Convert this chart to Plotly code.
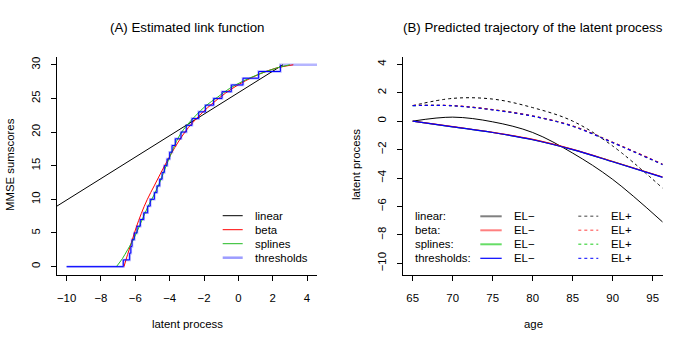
import plotly.graph_objects as go

W, H = 692, 346

# ---- (A) estimated link functions: latent process -> MMSE sumscore
linear_x = [-10.56, 2.6]
linear_y = [9.0, 30.0]

beta_x = [-6.66, -6.45, -6.2, -5.95, -5.65, -5.3, -4.9, -4.5, -4.1, -3.7,
          -3.3, -2.9, -2.4, -1.8, -1.1, -0.4, 0.4, 1.3, 2.2, 3.2]
beta_y = [0, 1.8, 3.8, 5.8, 7.9, 10.0, 12.0, 14.0, 15.9, 17.7,
          19.3, 20.7, 22.1, 23.6, 25.1, 26.4, 27.6, 28.7, 29.5, 30]

splines_x = [-7.1, -6.75, -6.45, -6.2, -5.9, -5.6, -5.25, -4.9, -4.55, -4.2, -3.8,
             -3.4, -3.0, -2.5, -1.9, -1.2, -0.5, 0.3, 1.2, 2.2, 3.0]
splines_y = [0, 1.2, 2.5, 3.6, 5.2, 7.0, 9.0, 10.7, 12.7, 15.0, 17.5,
             19.6, 21.0, 22.4, 23.9, 25.2, 26.5, 27.6, 28.6, 29.5, 30]

# latent value where the score moves from k to k+1
thresholds = [-6.70, -6.33, -6.26, -6.19, -6.06, -5.90, -5.71, -5.51, -5.28, -5.13,
              -4.89, -4.74, -4.58, -4.44, -4.31, -4.15, -4.00, -3.86, -3.67, -3.34,
              -3.03, -2.70, -2.31, -1.92, -1.44, -0.95, -0.41, 0.27, 1.18, 2.45]
score_levels = [0, 1, 2, 3, 4, 5, 6, 7, 8, 9, 10, 11, 12, 13, 14, 15, 16, 17, 18, 19,
                20, 21, 22, 23, 24, 25, 26, 27, 28, 29, 30]
step_start, step_end = -10.0, 4.6

# ---- (B) predicted trajectories by education level
ages = [65, 70, 75, 80, 85, 90, 96.25]
linear_lo = [0, 0.28, -0.05, -0.8, -2.25, -4.1, -7.1]
linear_hi = [1.09, 1.6, 1.55, 0.95, 0.0, -1.75, -4.72]
beta_lo = [0, -0.39, -0.79, -1.29, -1.99, -2.84, -3.93]
beta_hi = [1.1, 1.09, 0.81, 0.36, -0.34, -1.49, -3.03]
splines_lo = [0, -0.4, -0.8, -1.3, -2.0, -2.85, -3.95]
splines_hi = [1.09, 1.08, 0.8, 0.35, -0.35, -1.5, -3.05]
thresh_lo = [0, -0.4, -0.8, -1.31, -2.01, -2.86, -3.96]
thresh_hi = [1.09, 1.08, 0.79, 0.35, -0.36, -1.51, -3.06]

FONT = 'Liberation Sans, Arial, sans-serif'
DOT = '3px,3px'
GREEN = '#22bb22'


def px(x):
    return x / W


def py(y):
    return 1 - y / H


fig = go.Figure()

# panel A
step_x = [step_start] + thresholds + [step_end]
step_y = score_levels + [30]
fig.add_trace(go.Scatter(x=step_x, y=step_y, mode='lines', line_shape='hv',
                         line=dict(color='rgba(90,90,255,0.45)', width=2.5),
                         xaxis='x', yaxis='y'))
fig.add_trace(go.Scatter(x=linear_x, y=linear_y, mode='lines',
                         line=dict(color='black', width=1), xaxis='x', yaxis='y'))
fig.add_trace(go.Scatter(x=beta_x, y=beta_y, mode='lines', line_shape='spline',
                         line=dict(color='red', width=1), xaxis='x', yaxis='y'))
fig.add_trace(go.Scatter(x=splines_x, y=splines_y, mode='lines', line_shape='spline',
                         line=dict(color=GREEN, width=1), xaxis='x', yaxis='y'))
fig.add_trace(go.Scatter(x=step_x[:-1], y=step_y[:-1], mode='lines', line_shape='hv',
                         line=dict(color='blue', width=1), xaxis='x', yaxis='y'))

# panel B
for vals, col, dash in [(linear_lo, 'black', 'solid'), (linear_hi, 'black', DOT),
                        (splines_lo, GREEN, 'solid'), (splines_hi, GREEN, DOT),
                        (beta_lo, 'red', 'solid'), (beta_hi, 'red', DOT),
                        (thresh_lo, 'blue', 'solid'), (thresh_hi, 'blue', DOT)]:
    w = 1 if col == 'black' else 1.2
    fig.add_trace(go.Scatter(x=ages, y=vals, mode='lines', line_shape='spline',
                             line=dict(color=col, width=w, dash=dash),
                             xaxis='x2', yaxis='y2'))

axis_style = dict(showline=True, linecolor='black', linewidth=1, ticks='outside',
                  ticklen=5, tickcolor='black', showgrid=False, zeroline=False,
                  tickfont=dict(size=11.4, color='black', family=FONT))

fig.update_layout(
    width=W, height=H,
    margin=dict(l=0, r=0, t=0, b=0),
    paper_bgcolor='white', plot_bgcolor='white',
    showlegend=False,
    font=dict(family=FONT, color='black'),
    xaxis=dict(domain=[px(57), px(317)], range=[-10.56, 4.58], tickvals=[-10, -8, -6, -4, -2, 0, 2, 4],
               anchor='y', ticklabelstandoff=8, **axis_style),
    yaxis=dict(domain=[py(274.7), py(56.7)], range=[-1.2, 31.2], tickvals=[0, 5, 10, 15, 20, 25, 30],
               tickangle=-90, anchor='x', ticklabelstandoff=6, **axis_style),
    xaxis2=dict(domain=[px(402.7), px(662.7)], range=[63.75, 96.25], tickvals=[65, 70, 75, 80, 85, 90, 95],
                anchor='y2', ticklabelstandoff=8, **axis_style),
    yaxis2=dict(domain=[py(274.7), py(56.7)], range=[-10.8, 4.53], tickvals=[-10, -8, -6, -4, -2, 0, 2, 4],
                tickangle=-90, anchor='x2', ticklabelstandoff=6, **axis_style),
)

annotations = [
    dict(text='(A) Estimated link function', x=px(187), y=py(27), size=13.3),
    dict(text='(B) Predicted trajectory of the latent process', x=px(533), y=py(27), size=13.3),
    dict(text='latent process', x=px(187), y=py(324), size=11.4),
    dict(text='age', x=px(533), y=py(324), size=11.4),
    dict(text='MMSE sumscores', x=px(10), y=py(165), size=11.4, angle=-90),
    dict(text='latent process', x=px(356), y=py(165), size=11.4, angle=-90),
]
for a in annotations:
    fig.add_annotation(text=a['text'], x=a['x'], y=a['y'], xref='paper', yref='paper',
                       showarrow=False, xanchor='center', yanchor='middle',
                       textangle=a.get('angle', 0),
                       font=dict(size=a['size'], family=FONT, color='black'))

# legend of panel A
legA = [('linear', 'black', 1), ('beta', 'red', 1), ('splines', GREEN, 1),
        ('thresholds', 'rgba(90,90,255,0.6)', 2.5)]
for i, (lab, col, w) in enumerate(legA):
    yy = 215.7 + 14 * i
    fig.add_shape(type='line', xref='paper', yref='paper', x0=px(222.7), x1=px(242.7),
                  y0=py(yy), y1=py(yy), line=dict(color=col, width=w))
    fig.add_annotation(text=lab, x=px(253), y=py(yy), xref='paper', yref='paper',
                       showarrow=False, xanchor='left', yanchor='middle',
                       font=dict(size=11.4, family=FONT, color='black'))

# legend of panel B
legB = [('linear:', '#808080'), ('beta:', '#ff8080'), ('splines:', '#66dd66'),
        ('thresholds:', '#0000ff')]
for i, (lab, col) in enumerate(legB):
    yy = 216.3 + 14 * i
    fig.add_annotation(text=lab, x=px(413), y=py(yy), xref='paper', yref='paper',
                       showarrow=False, xanchor='left', yanchor='middle',
                       font=dict(size=11.4, family=FONT, color='black'))
    fig.add_shape(type='line', xref='paper', yref='paper', x0=px(480.3), x1=px(501.7),
                  y0=py(yy), y1=py(yy), line=dict(color=col, width=2 if i < 3 else 1.2))
    fig.add_annotation(text='EL\u2212', x=px(511.5), y=py(yy), xref='paper', yref='paper',
                       showarrow=False, xanchor='left', yanchor='middle',
                       font=dict(size=11.4, family=FONT, color='black'))
    fig.add_shape(type='line', xref='paper', yref='paper', x0=px(578.3), x1=px(598.3),
                  y0=py(yy), y1=py(yy), line=dict(color=col, width=1.5 if i < 3 else 1, dash='3px,3px'))
    fig.add_annotation(text='EL+', x=px(609), y=py(yy), xref='paper', yref='paper',
                       showarrow=False, xanchor='left', yanchor='middle',
                       font=dict(size=11.4, family=FONT, color='black'))

# the page body has a default 8px margin; drop it so the figure sits at the window origin
fig.write_html("out.html", config={'displayModeBar': False},
               post_script="document.body.style.margin='0';")
